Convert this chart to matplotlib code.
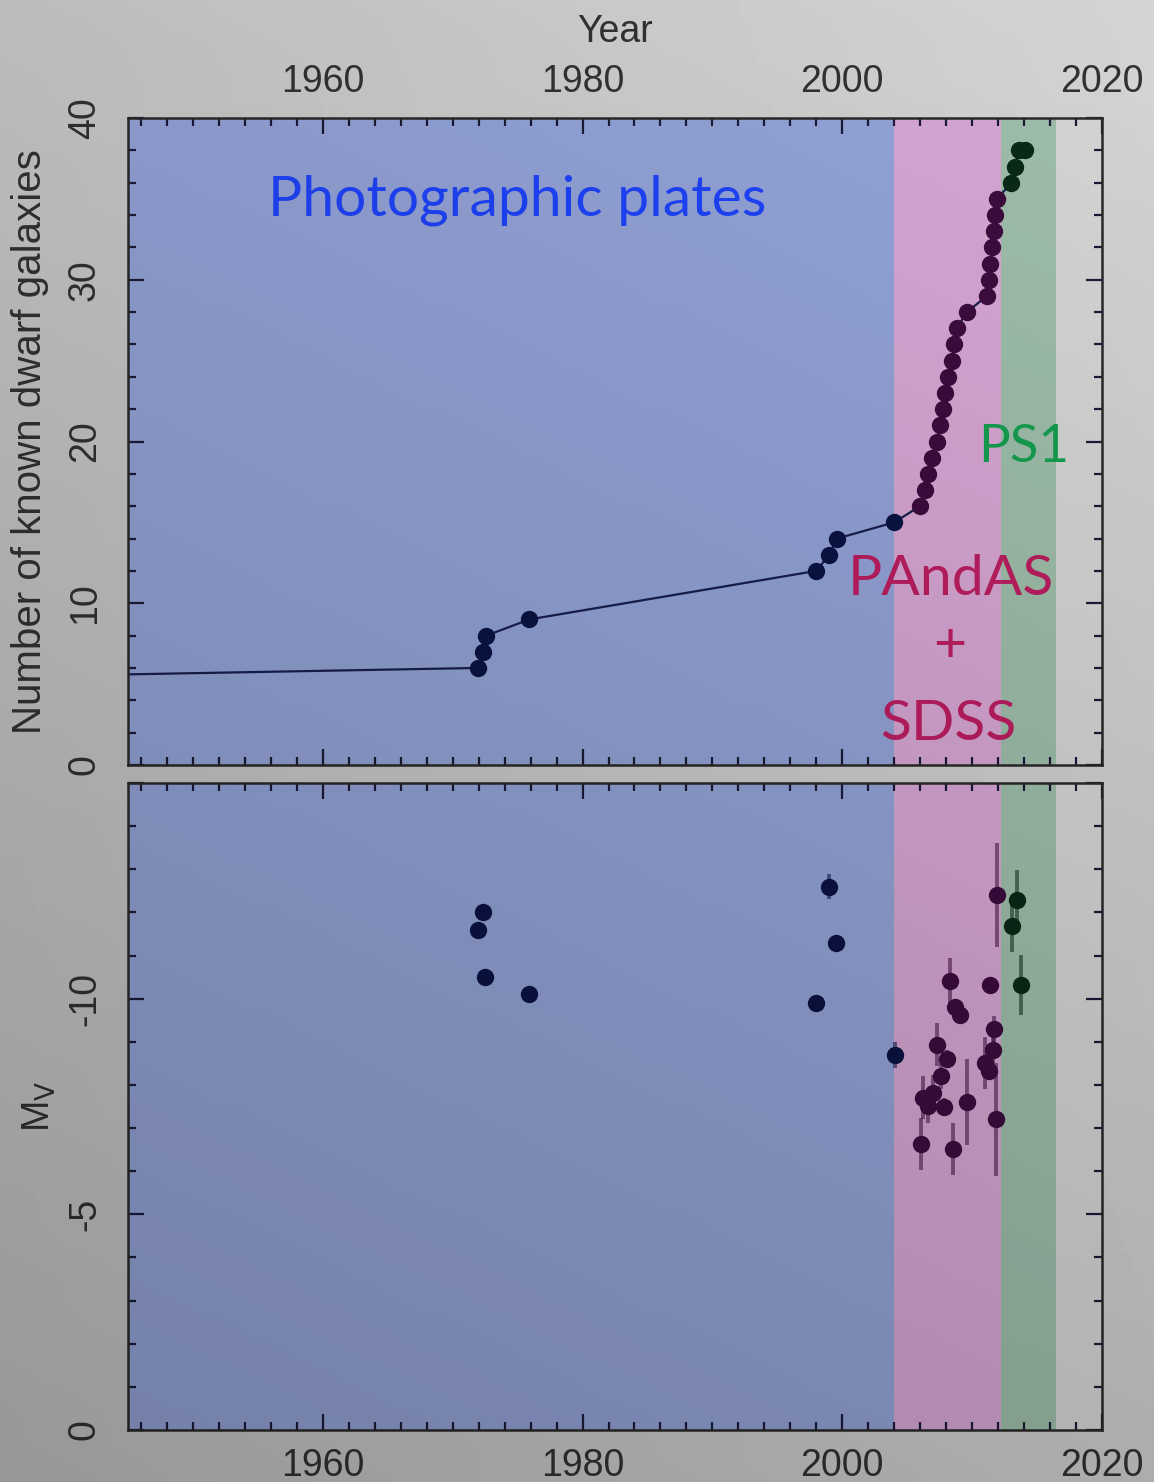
import numpy as np
import matplotlib
matplotlib.use("Agg")
import matplotlib.pyplot as plt
from matplotlib.ticker import MultipleLocator, FixedLocator

plt.rcParams['font.family'] = ['Liberation Sans', 'DejaVu Sans']
plt.rcParams['axes.unicode_minus'] = False

# ---------------- data ----------------
# survey eras (start, end) in years
era_names = ["Photographic plates", "PAndAS + SDSS", "PS1"]
era_bounds = [1945.0, 2004.0, 2012.25, 2016.45]

# cumulative number of known dwarf galaxies
cum_years = [1904.0, 1971.95, 1972.3, 1972.6, 1975.9, 1998.0, 1999.0, 1999.6, 2004.0,
             2005.98, 2006.37, 2006.58, 2006.94, 2007.27, 2007.53, 2007.79, 2007.91,
             2008.18, 2008.43, 2008.64, 2008.82, 2009.59, 2011.14, 2011.27, 2011.40,
             2011.53, 2011.66, 2011.79, 2011.92, 2013.02, 2013.28, 2013.59, 2014.06]
cum_counts = [5, 6, 7, 8, 9, 12, 13, 14, 15,
              16, 17, 18, 19, 20, 21, 22, 23,
              24, 25, 26, 27, 28, 29, 30, 31,
              32, 33, 34, 35, 36, 37, 38, 38]
cum_group = [0, 0, 0, 0, 0, 0, 0, 0, 0,
             1, 1, 1, 1, 1, 1, 1, 1,
             1, 1, 1, 1, 1, 1, 1, 1,
             1, 1, 1, 1, 2, 2, 2, 2]

# absolute magnitudes M_V
mv_years = [1971.95, 1972.3, 1972.5, 1975.9, 1998.0, 1999.0, 1999.5, 2004.05,
            2011.9, 2008.3, 2011.35, 2008.7, 2009.1, 2011.7, 2007.27, 2011.6, 2008.1,
            2010.96, 2011.3, 2007.6, 2006.2, 2007.0, 2006.6, 2007.84, 2009.6, 2011.86,
            2006.06, 2008.56,
            2013.07, 2013.46, 2013.8]
mv_values = [-11.6, -12.0, -10.5, -10.1, -9.9, -12.6, -11.3, -8.7,
             -12.4, -10.4, -10.31, -9.8, -9.62, -9.29, -8.93, -8.81, -8.6,
             -8.51, -8.32, -8.2, -7.7, -7.82, -7.51, -7.49, -7.6, -7.2,
             -6.63, -6.52,
             -11.69, -12.28, -10.31]
mv_errors = [0.0, 0.0, 0.0, 0.0, 0.0, 0.3, 0.0, 0.3,
             1.2, 0.55, 0.0, 0.15, 0.15, 0.3, 0.5, 0.3, 0.2,
             0.6, 0.2, 0.3, 0.5, 0.4, 0.4, 0.2, 1.0, 1.3,
             0.6, 0.6,
             0.6, 0.7, 0.7]
mv_group = [0, 0, 0, 0, 0, 0, 0, 0,
            1, 1, 1, 1, 1, 1, 1, 1, 1,
            1, 1, 1, 1, 1, 1, 1, 1, 1,
            1, 1,
            2, 2, 2]

x_ticks = [1960, 1980, 2000, 2020]
top_yticks = [0, 10, 20, 30, 40]
bot_yticks = [0, -5, -10, -15]
bot_yticklabels = ["0", "-5", "-10", ""]

# ---------------- style ----------------
span_colors = ["#97a7dc", "#dcaad8", "#a2c2ae"]
point_colors = ["#0b1446", "#3e0c40", "#0b2a17"]
text_colors = ["#1f45ff", "#c01f63", "#16a352"]
axes_face = "#dadada"
tick_col = "#1c1c3a"
label_col = "#333333"
fs_tick = 27

W, H = 1154, 1482
fig = plt.figure(figsize=(W / 100, H / 100), dpi=100)

# background gradient
bg = fig.add_axes([0, 0, 1, 1], zorder=-10)
yy, xx = np.mgrid[0:1:200j, 0:1:200j]
shade = 0.80 - 0.02 * yy + 0.05 * xx
bg.imshow(shade, cmap="gray", vmin=0, vmax=1, aspect="auto", extent=[0, 1, 0, 1], origin="upper")
bg.set_axis_off()

ax1 = fig.add_axes([128 / W, 1 - 765 / H, (1102 - 128) / W, (765 - 118) / H])
ax2 = fig.add_axes([128 / W, 1 - 1430 / H, (1102 - 128) / W, (1430 - 783) / H])

for ax in (ax1, ax2):
    ax.set_facecolor(axes_face)
    for i in range(3):
        ax.axvspan(era_bounds[i], era_bounds[i + 1], color=span_colors[i], lw=0, zorder=0)
    ax.set_xlim(1945, 2020)
    ax.xaxis.set_major_locator(FixedLocator(x_ticks))
    ax.xaxis.set_minor_locator(MultipleLocator(2))
    ax.tick_params(which="both", direction="in", top=True, right=True, color=tick_col,
                   width=1.6, labelsize=fs_tick, labelcolor=label_col)
    ax.tick_params(which="major", length=11.5)
    ax.tick_params(which="minor", length=5.5)
    for s in ax.spines.values():
        s.set_color("#2a2a2a")
        s.set_linewidth(1.8)
        s.set_zorder(5)

# ---- top panel ----
ax1.plot(cum_years, cum_counts, color="#1a2050", lw=1.6, zorder=2)
cy = np.array(cum_years); cc = np.array(cum_counts); cg = np.array(cum_group)
for g in range(3):
    m = cg == g
    ax1.plot(cy[m], cc[m], "o", color=point_colors[g], ms=12.5, mew=0, zorder=3)
ax1.set_ylim(0, 40)
ax1.yaxis.set_major_locator(FixedLocator(top_yticks))
ax1.yaxis.set_minor_locator(MultipleLocator(2))
ax1.tick_params(axis="x", which="both", labeltop=True, labelbottom=False, pad=13)
ax1.tick_params(axis="y", which="major", labelrotation=90, pad=18)
for lab in ax1.get_yticklabels():
    lab.set_va("center")
ax1.xaxis.set_label_position("top")
ax1.set_xlabel("Year", fontsize=fs_tick, color=label_col, labelpad=16)
ax1.set_ylabel("Number of known dwarf galaxies", fontsize=29, color=label_col)
ax1.yaxis.set_label_coords(-0.081, 0.5)

ax1.text(1974.93, 34.0, "Photographic plates", fontsize=41, family="Lato",
         color=text_colors[0], ha="center", va="baseline", zorder=4)
ax1.text(2008.36, 10.5, "PAndAS", fontsize=41, family="Lato",
         color=text_colors[1], ha="center", va="baseline", zorder=4)
ax1.text(2008.3, 7.3, "+", fontsize=41, family="Lato",
         color=text_colors[1], ha="center", va="center", zorder=4)
ax1.text(2008.2, 1.55, "SDSS", fontsize=41, family="Lato",
         color=text_colors[1], ha="center", va="baseline", zorder=4)
ax1.text(2014.0, 18.75, "PS1", fontsize=38, family="Lato",
         color=text_colors[2], ha="center", va="baseline", zorder=4)

# ---- bottom panel ----
my = np.array(mv_years); mvv = np.array(mv_values); me = np.array(mv_errors); mg = np.array(mv_group)
for g in range(3):
    m = mg == g
    ax2.errorbar(my[m], mvv[m], yerr=me[m], fmt="none", ecolor=point_colors[g], elinewidth=2.8,
                 alpha=0.55, capsize=0, zorder=2)
    ax2.plot(my[m], mvv[m], "o", color=point_colors[g], ms=12.5, mew=0, zorder=3)
ax2.set_ylim(0, -15)
ax2.yaxis.set_major_locator(FixedLocator(bot_yticks))
ax2.set_yticklabels(bot_yticklabels)
ax2.yaxis.set_minor_locator(MultipleLocator(1))
ax2.tick_params(axis="x", which="both", labelbottom=True, pad=13)
ax2.tick_params(axis="y", which="major", labelrotation=90, pad=18)
for lab in ax2.get_yticklabels():
    lab.set_va("center")
ax2.set_ylabel(r"M$_\mathrm{V}$", fontsize=fs_tick, color=label_col)
ax2.yaxis.set_label_coords(-0.072, 0.5)

# vignette overlay
ov = fig.add_axes([0, 0, 1, 1], zorder=100)
alpha = 0.02 + 0.16 * yy + 0.06 * (1 - xx)
rgba = np.zeros((200, 200, 4))
rgba[..., 3] = alpha
ov.imshow(rgba, aspect="auto", extent=[0, 1, 0, 1], origin="upper")
ov.set_axis_off()

fig.savefig("out.png", dpi=100)
